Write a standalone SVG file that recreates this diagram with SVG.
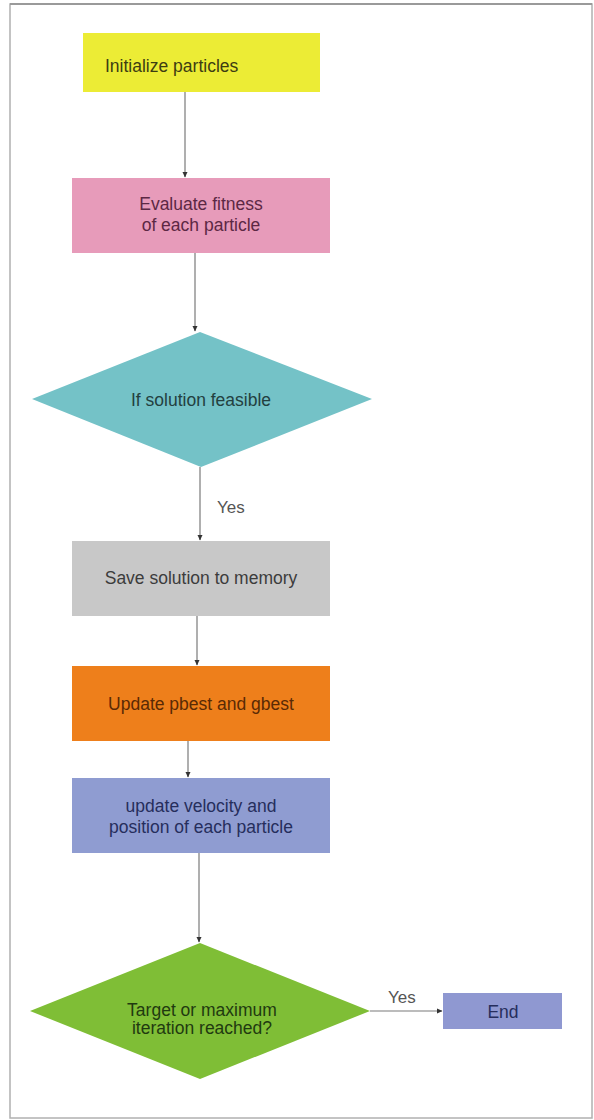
<svg xmlns="http://www.w3.org/2000/svg" width="594" height="1120" viewBox="0 0 594 1120">
<defs>
<style>
.t{font-family:"Liberation Sans",Arial,sans-serif;font-size:17.5px}
.c{text-anchor:middle}
.ln{stroke:#7a7a7a;stroke-width:1.2;fill:none}
.lbl{font-family:"Liberation Sans",Arial,sans-serif;font-size:17px;fill:#555}
</style>
<marker id="ah" markerWidth="6" markerHeight="6" refX="5" refY="3" orient="auto" markerUnits="userSpaceOnUse">
<path d="M0,0.5 L5.5,3 L0,5.5 Z" fill="#333"/>
</marker>
</defs>
<rect x="0" y="0" width="594" height="1120" fill="#fff"/>
<rect x="10" y="4" width="582" height="1114" fill="#fff" stroke="#b0b0b0" stroke-width="1.5"/>
<line x1="10" y1="4" x2="592" y2="4" stroke="#9a9a9a" stroke-width="2"/>

<g id="connectors">
<line class="ln" x1="185" y1="92" x2="185" y2="177" marker-end="url(#ah)"/>
<line class="ln" x1="195" y1="253" x2="195" y2="331" marker-end="url(#ah)"/>
<line class="ln" x1="200" y1="467" x2="200" y2="540" marker-end="url(#ah)"/>
<text class="lbl" x="217" y="513">Yes</text>
<line class="ln" x1="197" y1="616" x2="197" y2="665" marker-end="url(#ah)"/>
<line class="ln" x1="188" y1="741" x2="188" y2="777" marker-end="url(#ah)"/>
<line class="ln" x1="199" y1="853" x2="199" y2="942" marker-end="url(#ah)"/>
<line class="ln" x1="370" y1="1011" x2="442" y2="1011" marker-end="url(#ah)"/>
<text class="lbl" x="388" y="1003">Yes</text>
</g>

<g id="init">
<rect x="83" y="33" width="237" height="59" fill="#ecec35"/>
<text class="t" x="105" y="72" fill="#3d3d12">Initialize particles</text>
</g>

<g id="evaluate">
<rect x="72" y="178" width="258" height="75" fill="#e79bba"/>
<text class="t c" x="201" y="210" fill="#5c2844">Evaluate fitness</text>
<text class="t c" x="201" y="231" fill="#5c2844">of each particle</text>
</g>

<g id="feasible">
<polygon points="200,332 372,399 201,467 32,399" fill="#74c2c7"/>
<text class="t c" x="201" y="406" fill="#23403f">If solution feasible</text>
</g>

<g id="save">
<rect x="72" y="541" width="258" height="75" fill="#c8c8c8"/>
<text class="t c" x="201" y="584" fill="#3c3c3c">Save solution to memory</text>
</g>

<g id="update-best">
<rect x="72" y="666" width="258" height="75" fill="#ee7f1b"/>
<text class="t c" x="201" y="710" fill="#5a2a05">Update pbest and gbest</text>
</g>

<g id="update-velocity">
<rect x="72" y="778" width="258" height="75" fill="#8f9cd1"/>
<text class="t c" x="201" y="812" fill="#262e5c">update velocity and</text>
<text class="t c" x="201" y="833" fill="#262e5c">position of each particle</text>
</g>

<g id="target">
<polygon points="200,943 370,1011 200,1079 30,1011" fill="#7fbe36"/>
<text class="t c" x="202" y="1016" fill="#1f3a10">Target or maximum</text>
<text class="t c" x="202" y="1034" fill="#1f3a10">iteration reached?</text>
</g>

<g id="end">
<rect x="443" y="993" width="119" height="36" fill="#8f98d1"/>
<text class="t c" x="503" y="1018" fill="#262e5c">End</text>
</g>
</svg>
